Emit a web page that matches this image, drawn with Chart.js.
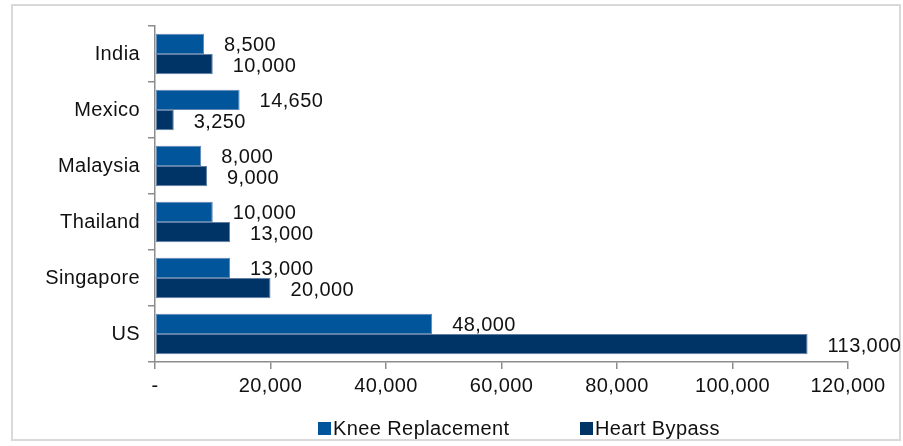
<!DOCTYPE html>
<html>
<head>
<meta charset="UTF-8">
<script src="https://cdn.jsdelivr.net/npm/chart.js@4"></script>
<style>
  * { margin: 0; padding: 0; box-sizing: border-box; }
  body { width: 903px; height: 446px; background: #fff; position: relative; overflow: hidden; font-family: 'Liberation Sans', Arial, sans-serif; }
  .frame { position: absolute; left: 11px; top: 4px; width: 890px; height: 437px; border: 2px solid #d9d9d9; }
  #wrap { position: absolute; left: 0; top: 0; width: 903px; height: 446px; }
  .legend { position: absolute; top: 417px; left: 0; width: 903px; font-size: 20px; letter-spacing: 0.4px; color: #111; }
  .legend span { position: absolute; white-space: nowrap; }
  .legend i { position: absolute; width: 13px; height: 13px; top: 5px; }
</style>
</head>
<body>
<div class="frame"></div>
<div id="wrap"><canvas id="chart" width="903" height="446"></canvas></div>
<div class="legend">
  <i style="left:318px;background:#00559b"></i><span style="left:333px">Knee Replacement</span>
  <i style="left:580px;background:#003466"></i><span style="left:595px">Heart Bypass</span>
</div>
<script>
const countries = ['India', 'Mexico', 'Malaysia', 'Thailand', 'Singapore', 'US'];
const kneeReplacement = [8500, 14650, 8000, 10000, 13000, 48000];
const heartBypass = [10000, 3250, 9000, 13000, 20000, 113000];
const xTicks = [0, 20000, 40000, 60000, 80000, 100000, 120000];

const FONT = { family: "'Liberation Sans', Arial, sans-serif", size: 20 };
const LS = '0.4px';
const fmt = v => v === 0 ? '-' : v.toLocaleString('en-US');

// Excel-style letter spacing on the canvas text
const spacing = {
  id: 'spacing',
  beforeLayout(chart) { chart.ctx.letterSpacing = LS; },
  beforeDraw(chart) { chart.ctx.letterSpacing = LS; }
};

// value labels to the right of each bar
const valueLabels = {
  id: 'valueLabels',
  afterDatasetsDraw(chart) {
    const ctx = chart.ctx;
    ctx.save();
    ctx.letterSpacing = LS;
    ctx.font = `${FONT.size}px ${FONT.family}`;
    ctx.fillStyle = '#111';
    ctx.textAlign = 'left';
    ctx.textBaseline = 'middle';
    chart.data.datasets.forEach((ds, di) => {
      chart.getDatasetMeta(di).data.forEach((bar, i) => {
        ctx.fillText(fmt(ds.data[i]), bar.x + 20, bar.y + 2);
      });
    });
    ctx.restore();
  }
};

new Chart(document.getElementById('chart'), {
  type: 'bar',
  data: {
    labels: countries,
    datasets: [
      { label: 'Knee Replacement', data: kneeReplacement, backgroundColor: '#00559b', borderColor: '#5f86b3', borderWidth: 1, borderSkipped: false },
      { label: 'Heart Bypass', data: heartBypass, backgroundColor: '#003466', borderColor: '#5f7ea3', borderWidth: 1, borderSkipped: false }
    ]
  },
  options: {
    indexAxis: 'y',
    responsive: false,
    animation: false,
    events: [],
    layout: { padding: { left: 0, top: 26, right: 55, bottom: 0 } },
    datasets: { bar: { categoryPercentage: 0.72, barPercentage: 1 } },
    plugins: { legend: { display: false }, tooltip: { enabled: false } },
    scales: {
      x: {
        min: 0, max: 120000,
        afterBuildTicks: s => { s.ticks = xTicks.map(v => ({ value: v })); },
        afterFit: s => { s.height = 84; },
        grid: { drawOnChartArea: false, color: '#8c8c8c', tickLength: 7, lineWidth: 1.5 },
        border: { color: '#8c8c8c', width: 1.5 },
        ticks: { color: '#111', font: FONT, padding: 5, maxRotation: 0, callback: v => fmt(v) }
      },
      y: {
        afterFit: s => { s.width = 155; },
        grid: { offset: true, drawOnChartArea: false, color: '#8c8c8c', tickLength: 7, lineWidth: 1.5 },
        border: { color: '#8c8c8c', width: 1.5 },
        ticks: { color: '#111', font: FONT, padding: 8 }
      }
    }
  },
  plugins: [spacing, valueLabels]
});
</script>
</body>
</html>
